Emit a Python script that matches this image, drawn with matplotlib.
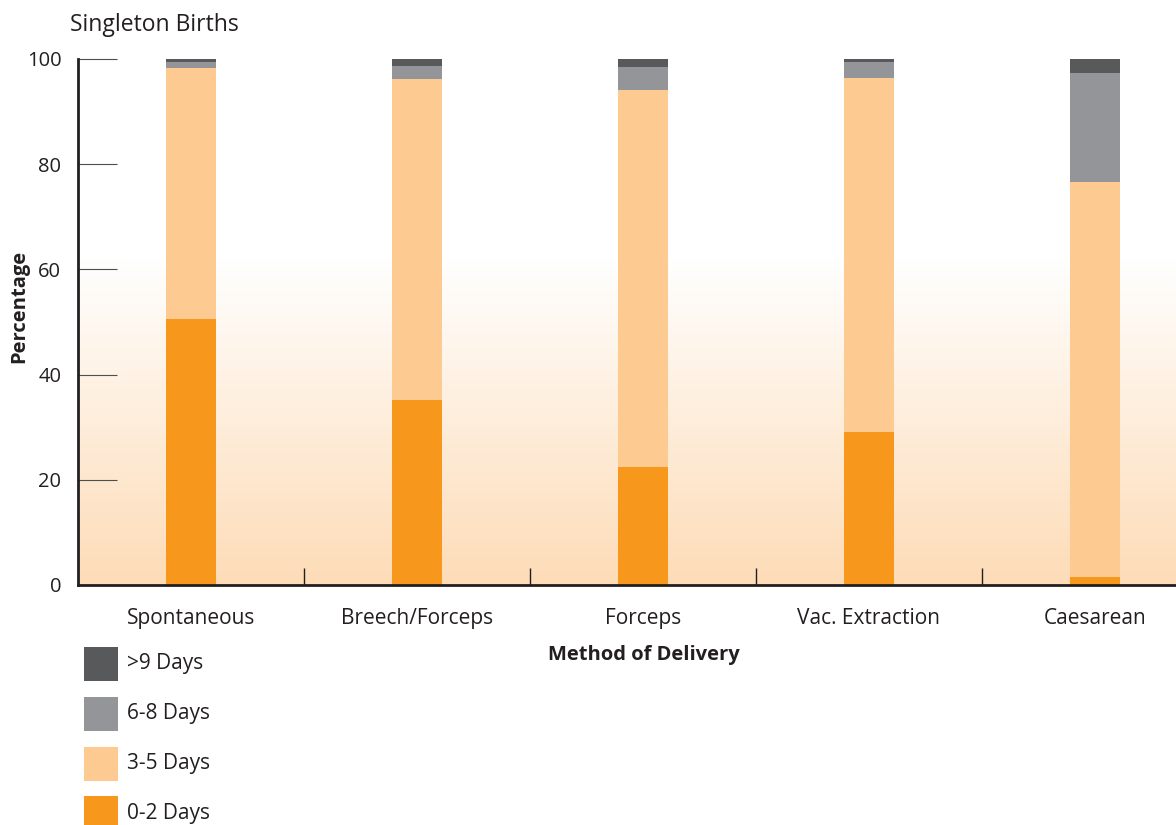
import matplotlib
matplotlib.use("Agg")
import matplotlib.pyplot as plt
import numpy as np
from matplotlib.patches import Rectangle
from matplotlib.colors import LinearSegmentedColormap

plt.rcParams['font.family'] = ['Open Sans', 'DejaVu Sans']

categories = ["Spontaneous", "Breech/Forceps", "Forceps", "Vac. Extraction", "Caesarean"]
series_names = ["0-2 Days", "3-5 Days", "6-8 Days", ">9 Days"]
d0_2 = [50.5, 35.1, 22.4, 29.0, 1.5]
d3_5 = [47.7, 61.1, 71.7, 67.4, 75.2]
d6_8 = [1.2, 2.5, 4.4, 3.0, 20.6]
d9p = [0.6, 1.3, 1.5, 0.6, 2.7]
series = [d0_2, d3_5, d6_8, d9p]
colors = ["#F7981D", "#FDCB92", "#939598", "#58595B"]
yticks = [0, 20, 40, 60, 80, 100]

W, H = 1176, 825
fig = plt.figure(figsize=(W / 100, H / 100), dpi=100)
ax = fig.add_axes([78 / W, 1 - 585 / H, 1 - 78 / W, (585 - 59) / H])

x = np.arange(len(categories))
ax.set_xlim(-0.5, 4.36)
ax.set_ylim(0, 100)

# gradient background
grad = np.linspace(0, 1, 256).reshape(-1, 1)
cmap = LinearSegmentedColormap.from_list("bg", ["#FDDCB7", "#FFFFFF"])
ax.imshow(grad, extent=(-0.5, 4.36, 0, 62), origin="lower", aspect="auto",
          cmap=cmap, zorder=0, interpolation="bicubic")

bottom = np.zeros(len(categories))
for vals, c, name in zip(series, colors, series_names):
    ax.bar(x, vals, 0.22, bottom=bottom, color=c, edgecolor="none", zorder=2, label=name)
    bottom += np.array(vals)

for s in ["top", "right"]:
    ax.spines[s].set_visible(False)
for s in ["left", "bottom"]:
    ax.spines[s].set_linewidth(2.0)
    ax.spines[s].set_color("#231F20")
    ax.spines[s].set_zorder(4)

ax.set_yticks(yticks)
ax.set_yticklabels([str(v) for v in yticks], fontsize=14.5, color="#231F20")
ax.tick_params(axis="y", direction="in", length=28, width=0.8, color="#4D4D4F", pad=12)

ax.set_xticks(x[:-1] + 0.5)
ax.set_xticklabels([])
ax.tick_params(axis="x", direction="in", length=12, width=1.0, color="#231F20")
for xi, lab in zip(x, categories):
    ax.text(xi, -4.3, lab, ha="center", va="top", fontsize=15, color="#231F20", zorder=5,
            clip_on=False)

fig.text(644 / W, 1 - 655 / H, "Method of Delivery", ha="center", va="center",
         fontsize=14.5, fontweight="bold", color="#231F20")
fig.text(19 / W, 1 - 306 / H, "Percentage", ha="center", va="center", rotation=90,
         fontsize=14.5, fontweight="bold", color="#231F20")
fig.text(70 / W, 1 - 25 / H, "Singleton Births", ha="left", va="center",
         fontsize=16.5, color="#231F20")

# legend
leg_centers = [664, 714, 764, 813]
for cy, name, c in zip(leg_centers, series_names[::-1], colors[::-1]):
    fig.patches.append(Rectangle((84 / W, 1 - (cy + 17) / H), 34 / W, 34 / H,
                                 transform=fig.transFigure, facecolor=c, edgecolor="none"))
    fig.text(127 / W, 1 - cy / H, name, ha="left", va="center", fontsize=15, color="#231F20")

fig.savefig("out.png", dpi=100)
